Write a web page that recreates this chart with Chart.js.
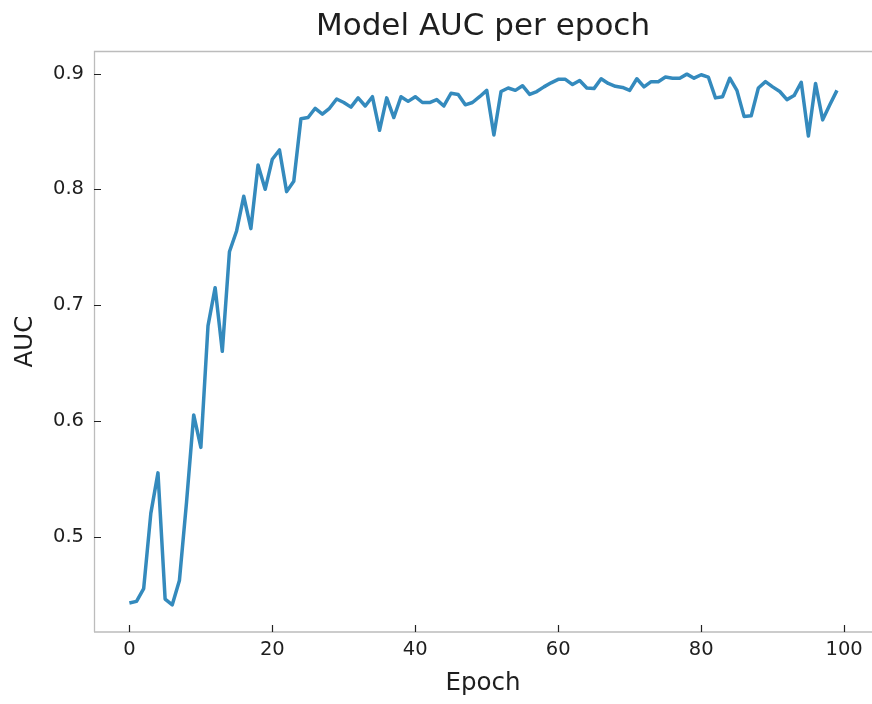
<!DOCTYPE html>
<html>
<head>
<meta charset="utf-8">
<style>
  html, body { margin: 0; padding: 0; background: #ffffff; }
  #wrap { width: 872px; height: 704px; position: relative; }
</style>
<script src="https://cdn.jsdelivr.net/npm/chart.js@4"></script>
</head>
<body>
<div id="wrap"><canvas id="aucChart" width="872" height="704"></canvas></div>
<script>
// AUC per epoch (epochs 0..99)
var auc = [
  0.4425, 0.444, 0.455, 0.520, 0.555, 0.446, 0.441, 0.462, 0.530, 0.605,
  0.577, 0.682, 0.715, 0.660, 0.746, 0.764, 0.794, 0.766, 0.821, 0.800,
  0.826, 0.834, 0.798, 0.807, 0.861, 0.862, 0.870, 0.865, 0.870, 0.878,
  0.875, 0.871, 0.879, 0.872, 0.880, 0.851, 0.879, 0.862, 0.880, 0.876,
  0.880, 0.875, 0.875, 0.8775, 0.872, 0.883, 0.882, 0.873, 0.875, 0.880,
  0.8855, 0.847, 0.8845, 0.8875, 0.8855, 0.8895, 0.882, 0.8845, 0.8885, 0.892,
  0.895, 0.895, 0.8905, 0.894, 0.8875, 0.887, 0.8955, 0.8915, 0.889, 0.888,
  0.8855, 0.8955, 0.8885, 0.893, 0.893, 0.897, 0.896, 0.896, 0.8995, 0.896,
  0.899, 0.897, 0.879, 0.880, 0.896, 0.8855, 0.863, 0.8635, 0.8875, 0.893,
  0.8885, 0.8845, 0.8775, 0.881, 0.8925, 0.846, 0.8915, 0.860, 0.873, 0.8855
];
var xTicks = [0, 20, 40, 60, 80, 100];
var yTicks = [0.5, 0.6, 0.7, 0.8, 0.9];
var yTickLabels = ['0.5', '0.6', '0.7', '0.8', '0.9'];
var chartTitle = 'Model AUC per epoch';

var TEXT = '#1e1e1e';
var FONT = 'DejaVu Sans';

// title centred over the axes, frame (top/left/bottom spines), inward ticks
var framePlugin = {
  id: 'frame',
  afterDraw: function(chart) {
    var ctx = chart.ctx, a = chart.chartArea;
    var xs = chart.scales.x, ys = chart.scales.y;
    ctx.save();
    ctx.fillStyle = TEXT;
    ctx.font = '31px "' + FONT + '"';
    ctx.textAlign = 'center';
    ctx.textBaseline = 'alphabetic';
    ctx.fillText(chartTitle, (a.left + a.right) / 2, 35);

    ctx.strokeStyle = '#bcbcbc';
    ctx.lineWidth = 1.3;
    ctx.beginPath();
    ctx.moveTo(a.left + 0.5, a.bottom);
    ctx.lineTo(a.left + 0.5, a.top + 0.5);
    ctx.lineTo(a.right, a.top + 0.5);
    ctx.moveTo(a.left, a.bottom);
    ctx.lineTo(a.right, a.bottom);
    ctx.stroke();

    ctx.strokeStyle = '#222222';
    ctx.lineWidth = 1.2;
    ctx.beginPath();
    xTicks.forEach(function(v) {
      var px = Math.round(xs.getPixelForValue(v)) + 0.5;
      ctx.moveTo(px, a.bottom);
      ctx.lineTo(px, a.bottom - 7);
    });
    yTicks.forEach(function(v) {
      var py = Math.round(ys.getPixelForValue(v)) + 0.5;
      ctx.moveTo(a.left, py);
      ctx.lineTo(a.left + 7, py);
    });
    ctx.stroke();
    ctx.restore();
  }
};

new Chart(document.getElementById('aucChart'), {
  type: 'line',
  data: {
    datasets: [{
      label: 'AUC',
      data: auc.map(function(v, i) { return { x: i, y: v }; }),
      borderColor: '#348ABD',
      borderWidth: 3.5,
      pointRadius: 0,
      tension: 0,
      borderJoinStyle: 'round',
      fill: false
    }]
  },
  options: {
    responsive: false,
    animation: false,
    layout: { padding: { left: 0, right: 0, top: 51, bottom: 0 } },
    plugins: {
      legend: { display: false },
      tooltip: { enabled: false },
      title: { display: false }
    },
    scales: {
      x: {
        type: 'linear',
        min: -4.95, max: 103.9,
        afterBuildTicks: function(s) { s.ticks = xTicks.map(function(v) { return { value: v }; }); },
        afterFit: function(s) { s.height = 72; },
        grid: { display: false, drawTicks: false },
        border: { display: false },
        ticks: {
          color: TEXT, padding: 6, maxRotation: 0, autoSkip: false,
          font: { family: FONT, size: 19.5 },
          callback: function(v) { return String(v); }
        },
        title: {
          display: true, text: 'Epoch', color: TEXT,
          font: { family: FONT, size: 24.5 },
          padding: { top: 0, bottom: 6 }
        }
      },
      y: {
        min: 0.4175, max: 0.9195,
        afterBuildTicks: function(s) { s.ticks = yTicks.map(function(v) { return { value: v }; }); },
        afterFit: function(s) { s.width = 94; },
        grid: { display: false, drawTicks: false },
        border: { display: false },
        ticks: {
          color: TEXT, padding: 10, autoSkip: false,
          font: { family: FONT, size: 19.5 },
          callback: function(v) { return yTickLabels[yTicks.indexOf(v)]; }
        },
        title: {
          display: true, text: 'AUC', color: TEXT,
          font: { family: FONT, size: 24.5 },
          padding: { top: 11, bottom: 0 }
        }
      }
    }
  },
  plugins: [framePlugin]
});
</script>
</body>
</html>
